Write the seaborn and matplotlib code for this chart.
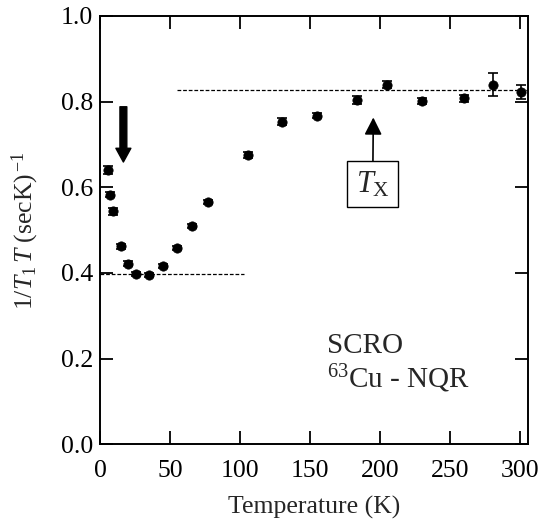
import matplotlib
matplotlib.use("Agg")
import matplotlib.pyplot as plt
import seaborn as sns
import pandas as pd
from matplotlib.patches import ArrowStyle

# ---- data ----
temperature = [5.5, 7.1, 9.5, 14.8, 20.2, 25.5, 35.0, 45.2, 54.8, 65.5, 76.9,
               105.5, 130.2, 155.2, 183.3, 204.8, 230.2, 260.2, 280.5, 300.5]
inv_T1T = [0.640, 0.583, 0.544, 0.462, 0.422, 0.398, 0.396, 0.417, 0.458, 0.509,
           0.565, 0.675, 0.753, 0.767, 0.804, 0.839, 0.801, 0.808, 0.839, 0.823]
err = [0.009, 0.005, 0.008, 0.005, 0.005, 0.005, 0.005, 0.005, 0.005, 0.005,
       0.005, 0.007, 0.008, 0.006, 0.009, 0.008, 0.007, 0.008, 0.027, 0.016]
high_T_level = 0.827
low_T_level = 0.398
x_ticks = [0, 50, 100, 150, 200, 250, 300]
y_ticks = [0.0, 0.2, 0.4, 0.6, 0.8, 1.0]

df = pd.DataFrame({"T": temperature, "rate": inv_T1T, "err": err})

sns.set_theme(style="ticks")
plt.rcParams["font.family"] = ["Liberation Serif", "DejaVu Serif"]
plt.rcParams["mathtext.fontset"] = "custom"
plt.rcParams["mathtext.rm"] = "Liberation Serif"
plt.rcParams["mathtext.it"] = "Liberation Serif:italic"
plt.rcParams["mathtext.bf"] = "Liberation Serif:bold"

fig = plt.figure(figsize=(5.42, 5.2), dpi=100)
ax = fig.add_axes([0.1845, 0.1456, 0.7897, 0.8237])

ax.errorbar(df["T"], df["rate"], yerr=df["err"], fmt="none", ecolor="black",
            elinewidth=1.2, capsize=3.5, capthick=1.2, zorder=3)
sns.scatterplot(data=df, x="T", y="rate", ax=ax, color="black", s=45,
                edgecolor="black", linewidth=0.5, zorder=4, legend=False)

# dashed reference levels
ax.plot([55, 305.7], [high_T_level, high_T_level], color="black", lw=0.9,
        dashes=(3, 1.5), zorder=2)
ax.plot([0, 103], [low_T_level, low_T_level], color="black", lw=0.9,
        dashes=(3, 1.5), zorder=2)

# thick arrow
ax.annotate("", xy=(16.7, 0.659), xytext=(16.7, 0.788),
            arrowprops=dict(arrowstyle=ArrowStyle.Simple(head_length=1.1, head_width=1.2, tail_width=0.55),
                            color="black", mutation_scale=9, shrinkA=0, shrinkB=0))

# T_X box and arrow
ax.annotate(r"$T_{\mathrm{X}}$", xy=(195.2, 0.763), xytext=(194.8, 0.607),
            ha="center", va="center", fontsize=22,
            bbox=dict(boxstyle="square,pad=0.27", fc="white", ec="black", lw=1.0),
            arrowprops=dict(arrowstyle="-|>,head_length=0.75,head_width=0.38",
                            color="black", lw=1.2, shrinkA=0, shrinkB=0, mutation_scale=14))

ax.text(162, 0.214, "SCRO", fontsize=21, ha="left", va="baseline")
ax.text(162, 0.132, r"$^{63}$Cu - NQR", fontsize=21, ha="left", va="baseline")

ax.set_xlim(0, 305.7)
ax.set_ylim(0, 1.0)
ax.set_xticks(x_ticks)
ax.set_yticks(y_ticks)
ax.set_yticklabels([f"{v:.1f}" for v in y_ticks])
ax.tick_params(direction="in", length=9.5, width=1.3, labelsize=18.5, pad=5,
               top=True, right=True, colors="black")
ax.tick_params(axis="x", pad=11)
for s in ax.spines.values():
    s.set_linewidth(1.4)
    s.set_color("black")

ax.set_xlabel("Temperature (K)", fontsize=18.5, labelpad=10)
ax.set_ylabel(r"1/$T_1\,T$ (secK)$^{\,\mathrm{-1}}$", fontsize=18.5, labelpad=14)

fig.savefig("out.png", dpi=100)
